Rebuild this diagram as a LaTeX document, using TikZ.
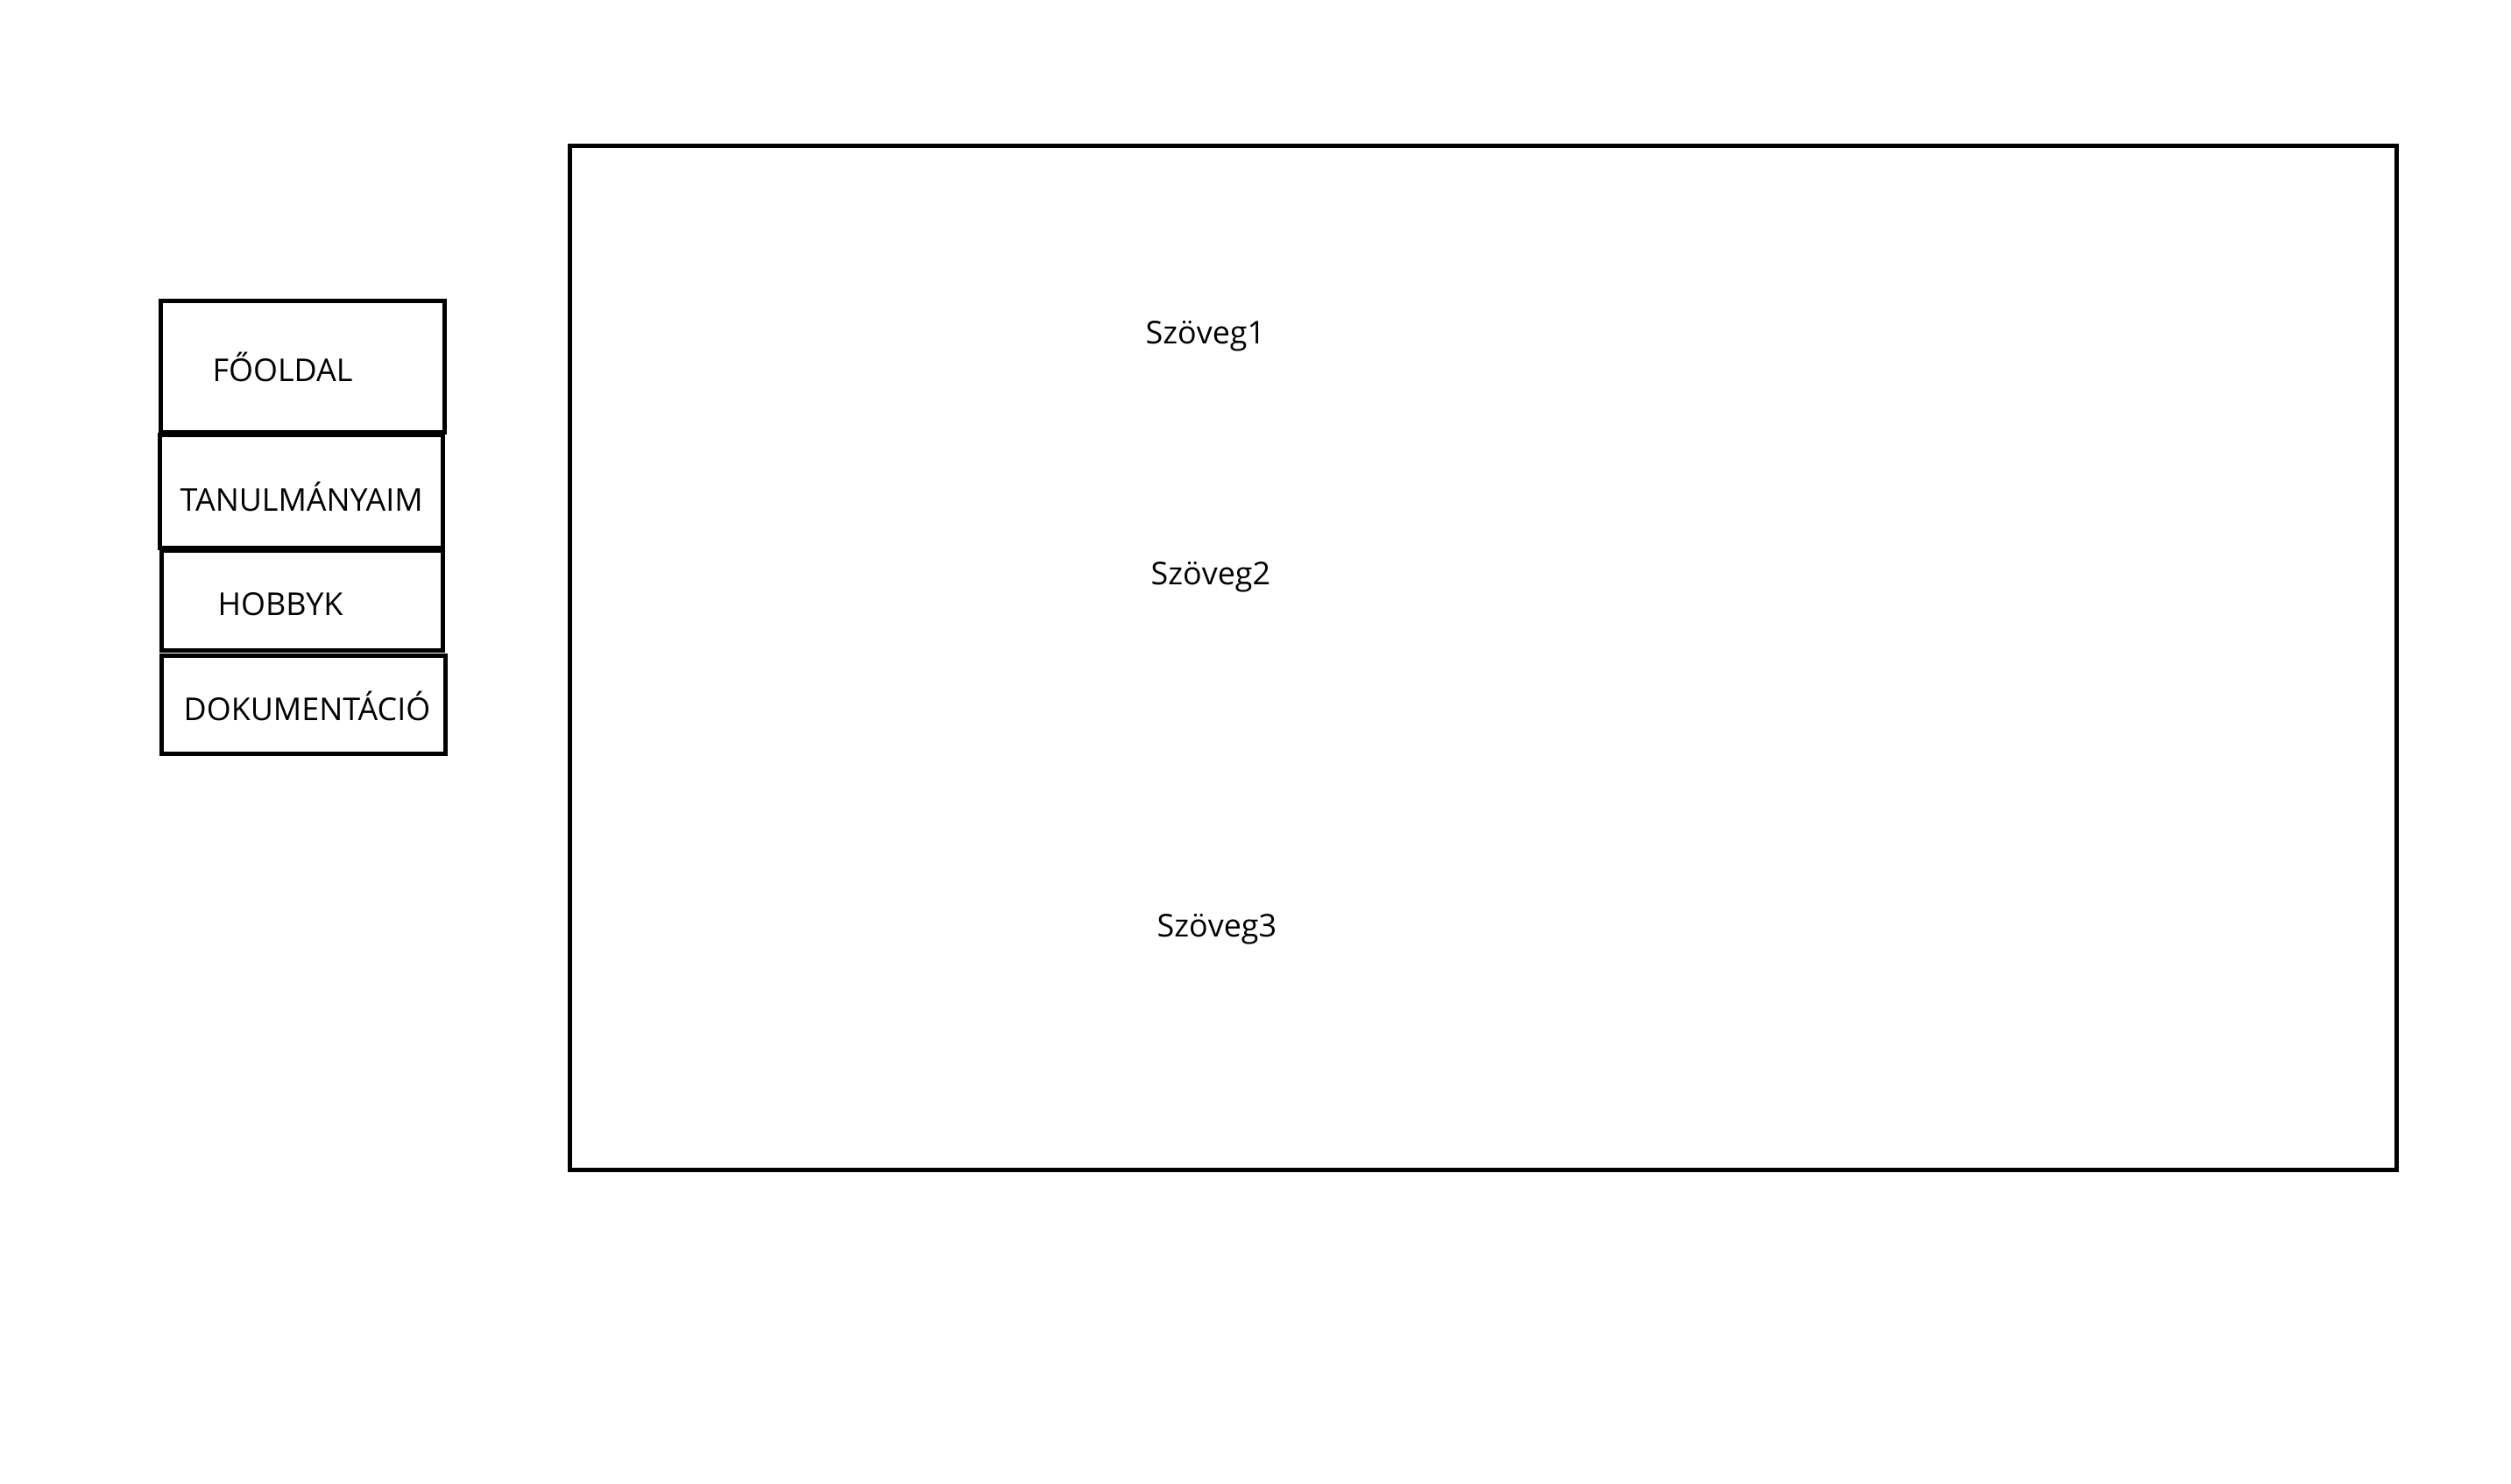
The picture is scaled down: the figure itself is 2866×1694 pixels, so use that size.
\documentclass[tikz,border=0pt]{standalone}
\usepackage{fontspec}
\setmainfont{Open Sans}
\begin{document}
\begin{tikzpicture}[x=0.01cm,y=-0.01cm,
  frame/.style={draw=black,line width=5*0.01cm},
  label/.style={anchor=base west,inner sep=0pt,font=\fontsize{10.2pt}{12pt}\selectfont}]
\useasboundingbox (0,0) rectangle (2866,1694);
% main content frame
\draw[frame] (650,167) rectangle (2735,1335);
% menu boxes
\draw[frame] (183,343) rectangle (507,493);
\draw[frame] (182,496) rectangle (505,625);
\draw[frame] (184,628) rectangle (505,742);
\draw[frame] (184,748) rectangle (508,860);
% menu labels
\node[label] (m1) at (242,435) {FŐOLDAL};
\node[label] (m2) at (205,583) {TANULMÁNYAIM};
\node[label] (m3) at (248,702) {HOBBYK};
\node[label] (m4) at (209,822) {DOKUMENTÁCIÓ};
% content texts
\node[label] (t1) at (1307,392) {Szöveg1};
\node[label] (t2) at (1313,667) {Szöveg2};
\node[label] (t3) at (1320,1069) {Szöveg3};
\end{tikzpicture}
\end{document}
